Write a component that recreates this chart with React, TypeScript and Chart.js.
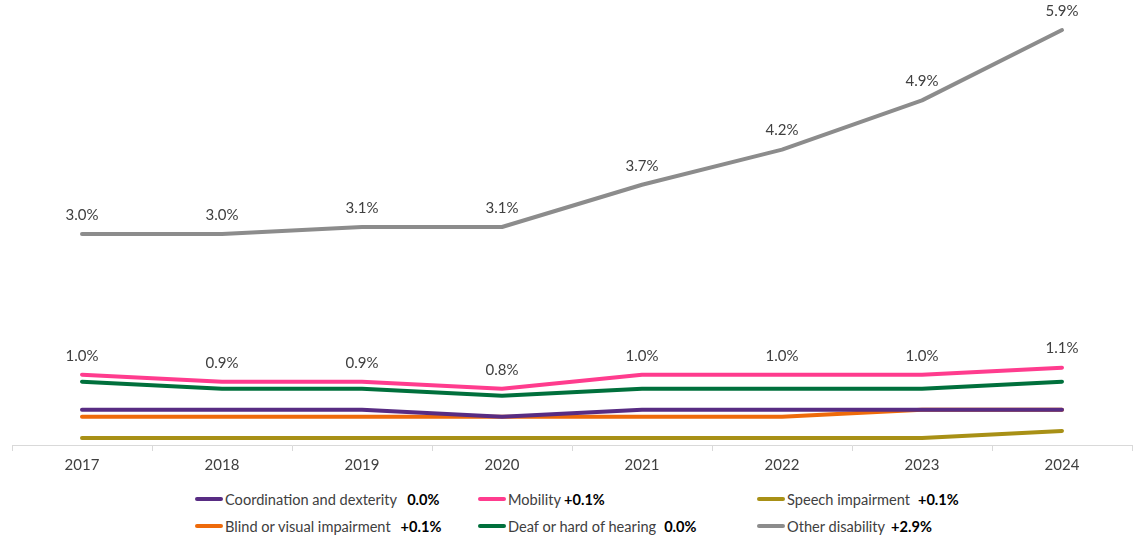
import React, { useEffect, useRef } from "react";
import { Chart, registerables } from "chart.js";

Chart.register(...registerables);

const years = ["2017", "2018", "2019", "2020", "2021", "2022", "2023", "2024"];
const coordination = [0.5, 0.5, 0.5, 0.4, 0.5, 0.5, 0.5, 0.5];
const mobility = [1.0, 0.9, 0.9, 0.8, 1.0, 1.0, 1.0, 1.1];
const speech = [0.1, 0.1, 0.1, 0.1, 0.1, 0.1, 0.1, 0.2];
const blind = [0.4, 0.4, 0.4, 0.4, 0.4, 0.4, 0.5, 0.5];
const deaf = [0.9, 0.8, 0.8, 0.7, 0.8, 0.8, 0.8, 0.9];
const other = [3.0, 3.0, 3.1, 3.1, 3.7, 4.2, 4.9, 5.9];

const seriesNames = [
  "Coordination and dexterity",
  "Mobility",
  "Speech impairment",
  "Blind or visual impairment",
  "Deaf or hard of hearing",
  "Other disability",
];
const seriesChanges = ["0.0%", "+0.1%", "+0.1%", "+0.1%", "0.0%", "+2.9%"];
const colors = ["#582C83", "#FF3C8E", "#A89016", "#EE6A0A", "#00703C", "#8C8C8C"];
const labelled = [false, true, false, false, false, true];

const FONT = "Lato, 'Liberation Sans', sans-serif";

const labelPlugin = {
  id: "valueLabels",
  afterDatasetsDraw(chart: any) {
    const ctx = chart.ctx;
    ctx.save();
    ctx.font = `15px ${FONT}`;
    ctx.fillStyle = "#404040";
    ctx.textAlign = "center";
    ctx.textBaseline = "middle";
    chart.data.datasets.forEach((ds: any, i: number) => {
      if (!labelled[i]) return;
      const meta = chart.getDatasetMeta(i);
      meta.data.forEach((pt: any, j: number) => {
        ctx.fillText(ds.data[j].toFixed(1) + "%", pt.x, pt.y - 19);
      });
    });
    ctx.restore();
  },
};

export default function App() {
  const ref = useRef<HTMLCanvasElement>(null);
  useEffect(() => {
    if (!ref.current) return;
    const all = [coordination, mobility, speech, blind, deaf, other];
    const chart = new Chart(ref.current, {
      type: "line",
      data: {
        labels: years,
        datasets: all.map((d, i) => ({
          label: seriesNames[i],
          data: d,
          borderColor: colors[i],
          backgroundColor: colors[i],
          borderWidth: 4,
          pointRadius: 0,
          tension: 0,
          borderCapStyle: "round" as const,
          borderJoinStyle: "round" as const,
        })),
      },
      options: {
        animation: false,
        responsive: false,
        devicePixelRatio: 1,
        layout: { padding: { left: 12, right: 8, top: 23, bottom: 0 } },
        plugins: { legend: { display: false }, tooltip: { enabled: false } },
        scales: {
          x: {
            offset: true,
            grid: {
              display: true,
              drawOnChartArea: false,
              drawTicks: true,
              tickLength: 6,
              color: "#D9D9D9",
              offset: true,
            },
            border: { display: true, color: "#D9D9D9", width: 1 },
            ticks: { font: { family: FONT, size: 15 }, color: "#404040", padding: 5 },
          },
          y: {
            display: false,
            min: 0,
            max: 6,
          },
        },
      },
      plugins: [labelPlugin],
    });
    return () => chart.destroy();
  }, []);

  const colLeft = [195, 478, 757];
  const valueGap = [10, 3, 8, 10, 8, 6];
  return (
    <div style={{ position: "absolute", left: 0, top: 0, width: 1140, height: 539, background: "#fff", fontFamily: FONT }}>
      <canvas ref={ref} width={1140} height={479} style={{ display: "block" }} />
      {seriesNames.map((name, i) => {
        const row = Math.floor(i / 3);
        const col = i % 3;
        return (
          <div
            key={name}
            style={{
              position: "absolute",
              left: colLeft[col],
              top: 489 + row * 27,
              height: 20,
              display: "flex",
              alignItems: "center",
              fontSize: 14.6,
              color: "#404040",
              whiteSpace: "nowrap",
            }}
          >
            <span style={{ display: "inline-block", width: 28, height: 4, borderRadius: 2, background: colors[i], marginRight: 2 }} />
            <span>{name}</span>
            <span style={{ fontWeight: "bold", color: "#000", marginLeft: valueGap[i] }}>{seriesChanges[i]}</span>
          </div>
        );
      })}
    </div>
  );
}
